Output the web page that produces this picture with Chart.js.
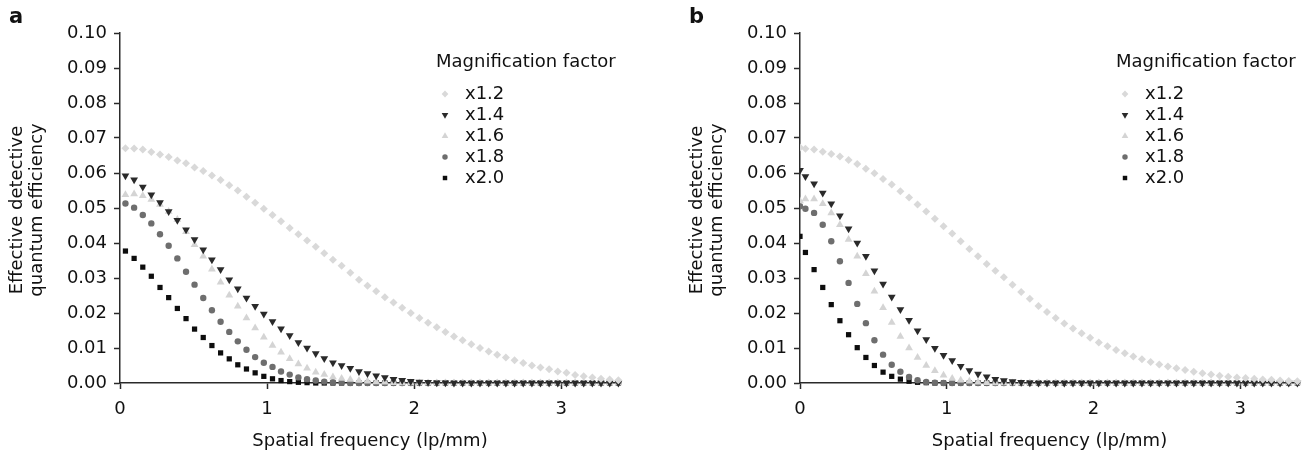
<!DOCTYPE html>
<html>
<head>
<meta charset="utf-8">
<script src="https://cdn.jsdelivr.net/npm/chart.js@4"></script>
<style>
  body { margin: 0; background: #fff; }
  #wrap { position: relative; width: 1315px; height: 457px; }
  canvas { position: absolute; top: 0; }
  #chartA { left: 0; }
  #chartB { left: 680px; }
</style>
</head>
<body>
<div id="wrap">
  <canvas id="chartA" width="680" height="457"></canvas>
  <canvas id="chartB" width="635" height="457"></canvas>
</div>
<script>
// Spatial frequency sample points (lp/mm)
const freq = [
  0.037, 0.096, 0.155, 0.213, 0.272, 0.331, 0.390, 0.449, 0.507, 0.566,
  0.625, 0.684, 0.743, 0.801, 0.860, 0.919, 0.978, 1.037, 1.095, 1.154,
  1.213, 1.272, 1.331, 1.389, 1.448, 1.507, 1.566, 1.625, 1.683, 1.742,
  1.801, 1.860, 1.919, 1.977, 2.036, 2.095, 2.154, 2.213, 2.271, 2.330,
  2.389, 2.448, 2.507, 2.565, 2.624, 2.683, 2.742, 2.801, 2.859, 2.918,
  2.977, 3.036, 3.095, 3.153, 3.212, 3.271, 3.330, 3.389
];
// panel b also has a point at 0
const freqB = [0].concat(freq);

const seriesLabels = ['x1.2', 'x1.4', 'x1.6', 'x1.8', 'x2.0'];
const xTicks = [0, 1, 2, 3];
const yTicks = [0, 0.01, 0.02, 0.03, 0.04, 0.05, 0.06, 0.07, 0.08, 0.09, 0.10];

// Panel a
const a12 = [
  0.0671, 0.0670, 0.0667, 0.0660, 0.0653, 0.0646, 0.0636, 0.0628, 0.0616, 0.0606,
  0.0593, 0.0580, 0.0565, 0.0550, 0.0532, 0.0515, 0.0498, 0.0480, 0.0462, 0.0443,
  0.0425, 0.0407, 0.0389, 0.0371, 0.0352, 0.0335, 0.0315, 0.0295, 0.0278, 0.0262,
  0.0245, 0.0230, 0.0215, 0.0200, 0.0186, 0.0172, 0.0159, 0.0146, 0.0133, 0.0122,
  0.0111, 0.0100, 0.0090, 0.0081, 0.0073, 0.0065, 0.0057, 0.0050, 0.0044, 0.0039,
  0.0033, 0.0029, 0.0023, 0.0019, 0.0016, 0.0012, 0.0010, 0.0008
];
const a14 = [
  0.0592, 0.0581, 0.0560, 0.0538, 0.0516, 0.0490, 0.0465, 0.0438, 0.0410, 0.0381,
  0.0352, 0.0324, 0.0295, 0.0269, 0.0243, 0.0219, 0.0197, 0.0176, 0.0155, 0.0136,
  0.0116, 0.0100, 0.0084, 0.0070, 0.0058, 0.0050, 0.0042, 0.0033, 0.0027, 0.0021,
  0.0016, 0.0011, 0.0008, 0.0005, 0.0003, 0.0002, 0.0001, 0.0001, 0, 0,
  0, 0, 0, 0, 0, 0, 0, 0, 0, 0,
  0, 0, 0, 0, 0, 0, 0, 0
];
const a16 = [
  0.0538, 0.0540, 0.0535, 0.0524, 0.0510, 0.0490, 0.0467, 0.0432, 0.0395, 0.0362,
  0.0325, 0.0288, 0.0251, 0.0219, 0.0186, 0.0157, 0.0131, 0.0107, 0.0088, 0.0069,
  0.0054, 0.0042, 0.0031, 0.0024, 0.0017, 0.0013, 0.0010, 0.0007, 0.0005, 0.0003,
  0.0002, 0.0001, 0, 0, 0, 0, 0, 0, 0, 0,
  0, 0, 0, 0, 0, 0, 0, 0, 0, 0,
  0, 0, 0, 0, 0, 0, 0, 0
];
const a18 = [
  0.0513, 0.0501, 0.0480, 0.0456, 0.0425, 0.0392, 0.0356, 0.0318, 0.0281, 0.0243,
  0.0208, 0.0175, 0.0146, 0.0119, 0.0095, 0.0074, 0.0058, 0.0046, 0.0033, 0.0024,
  0.0016, 0.0011, 0.0007, 0.0004, 0.0002, 0.0001, 0, 0, 0, 0,
  0, 0, 0, 0, 0, 0, 0, 0, 0, 0,
  0, 0, 0, 0, 0, 0, 0, 0, 0, 0,
  0, 0, 0, 0, 0, 0, 0, 0
];
const a20 = [
  0.0377, 0.0356, 0.0331, 0.0305, 0.0273, 0.0244, 0.0213, 0.0184, 0.0154, 0.0130,
  0.0107, 0.0086, 0.0069, 0.0052, 0.0040, 0.0029, 0.0019, 0.0012, 0.0007, 0.0004,
  0.0002, 0.0001, 0, 0, 0, 0, 0, 0, 0, 0,
  0, 0, 0, 0, 0, 0, 0, 0, 0, 0,
  0, 0, 0, 0, 0, 0, 0, 0, 0, 0,
  0, 0, 0, 0, 0, 0, 0, 0
];

// Panel b (first value is at 0 lp/mm)
const b12 = [
  0.0673,
  0.0669, 0.0667, 0.0661, 0.0654, 0.0647, 0.0637, 0.0626, 0.0612, 0.0599, 0.0583,
  0.0567, 0.0548, 0.0530, 0.0510, 0.0490, 0.0469, 0.0448, 0.0427, 0.0405, 0.0383,
  0.0362, 0.0340, 0.0321, 0.0302, 0.0281, 0.0260, 0.0241, 0.0220, 0.0203, 0.0186,
  0.0170, 0.0156, 0.0142, 0.0129, 0.0116, 0.0105, 0.0094, 0.0085, 0.0076, 0.0068,
  0.0060, 0.0053, 0.0047, 0.0042, 0.0037, 0.0032, 0.0028, 0.0024, 0.0021, 0.0018,
  0.0016, 0.0014, 0.0012, 0.0010, 0.0009, 0.0007, 0.0006, 0.0005
];
const b14 = [
  0.0608,
  0.0590, 0.0569, 0.0543, 0.0512, 0.0478, 0.0441, 0.0400, 0.0362, 0.0321, 0.0283,
  0.0246, 0.0210, 0.0179, 0.0149, 0.0124, 0.0099, 0.0079, 0.0064, 0.0048, 0.0036,
  0.0026, 0.0018, 0.0011, 0.0007, 0.0004, 0.0002, 0.0001, 0, 0, 0,
  0, 0, 0, 0, 0, 0, 0, 0, 0, 0,
  0, 0, 0, 0, 0, 0, 0, 0, 0, 0,
  0, 0, 0, 0, 0, 0, 0, 0
];
const b16 = [
  0.0520,
  0.0526, 0.0526, 0.0512, 0.0486, 0.0452, 0.0410, 0.0362, 0.0312, 0.0262, 0.0215,
  0.0173, 0.0133, 0.0100, 0.0073, 0.0050, 0.0035, 0.0022, 0.0013, 0.0008, 0.0005,
  0.0002, 0.0001, 0, 0, 0, 0, 0, 0, 0, 0,
  0, 0, 0, 0, 0, 0, 0, 0, 0, 0,
  0, 0, 0, 0, 0, 0, 0, 0, 0, 0,
  0, 0, 0, 0, 0, 0, 0, 0
];
const b18 = [
  0.0505,
  0.0498, 0.0486, 0.0452, 0.0405, 0.0348, 0.0286, 0.0226, 0.0171, 0.0122, 0.0081,
  0.0052, 0.0032, 0.0017, 0.0008, 0.0003, 0.0001, 0, 0, 0, 0,
  0, 0, 0, 0, 0, 0, 0, 0, 0, 0,
  0, 0, 0, 0, 0, 0, 0, 0, 0, 0,
  0, 0, 0, 0, 0, 0, 0, 0, 0, 0,
  0, 0, 0, 0, 0, 0, 0, 0
];
const b20 = [
  0.0419,
  0.0373, 0.0324, 0.0273, 0.0224, 0.0178, 0.0138, 0.0101, 0.0073, 0.0050, 0.0031,
  0.0019, 0.0011, 0.0005, 0.0002, 0.0001, 0, 0, 0, 0, 0,
  0, 0, 0, 0, 0, 0, 0, 0, 0, 0,
  0, 0, 0, 0, 0, 0, 0, 0, 0, 0,
  0, 0, 0, 0, 0, 0, 0, 0, 0, 0,
  0, 0, 0, 0, 0, 0, 0, 0
];

// marker look per series
const markers = [
  { pointStyle: 'rectRot', radius: 4, rotation: 0, color: '#d9d9d9' },
  { pointStyle: 'triangle', radius: 4.5, rotation: 180, color: '#2a2a2a' },
  { pointStyle: 'triangle', radius: 4.5, rotation: 0, color: '#d4d4d4' },
  { pointStyle: 'circle', radius: 3.2, rotation: 0, color: '#6e6e6e' },
  { pointStyle: 'rect', radius: 3.7, rotation: 0, color: '#0d0d0d' }
];

const FONT = '"DejaVu Sans", "Liberation Sans", Arial, sans-serif';
const INK = '#111';
const AXIS = '#2a2a2a';

function makeDatasets(xs, seriesList) {
    return seriesList.map((vals, i) => {
        const m = markers[i];
        return {
            label: seriesLabels[i],
            data: vals.map((v, j) => ({ x: xs[j], y: v })),
            pointStyle: m.pointStyle,
            pointRadius: m.radius,
            pointRotation: m.rotation,
            pointBackgroundColor: m.color,
            pointBorderWidth: 0,
            pointHoverRadius: m.radius,
            showLine: false,
            clip: { left: 0, top: 6, right: 6, bottom: 6 }
        };
    });
}

// Axis titles, panel letter and legend drawn on the canvas
const decorPlugin = {
    id: 'decor',
    afterDraw(chart, args, opts) {
        const ctx = chart.ctx;
        const area = chart.chartArea;
        ctx.save();
        ctx.fillStyle = INK;

        // panel letter
        ctx.font = 'bold 21px ' + FONT;
        ctx.textAlign = 'left';
        ctx.textBaseline = 'alphabetic';
        ctx.fillText(opts.letter, 9, 23);

        // x title
        ctx.font = '18px ' + FONT;
        ctx.textAlign = 'center';
        ctx.textBaseline = 'middle';
        ctx.fillText('Spatial frequency (lp/mm)', (area.left + area.right) / 2, 441);

        // y title, two lines
        ctx.save();
        ctx.translate(0, 210);
        ctx.rotate(-Math.PI / 2);
        ctx.fillText('Effective detective', 0, 17);
        ctx.fillText('quantum efficiency', 0, 37);
        ctx.restore();

        // legend
        ctx.textAlign = 'left';
        ctx.fillText('Magnification factor', 436, 62);
        seriesLabels.forEach((lab, i) => {
            const y = 94 + i * 21;
            const m = markers[i];
            ctx.fillStyle = m.color;
            Chart.helpers.drawPoint(ctx, {
                pointStyle: m.pointStyle,
                rotation: m.rotation,
                radius: m.radius * 0.85,
                borderWidth: 0
            }, 445, y);
            ctx.fillStyle = INK;
            ctx.fillText(lab, 465, y);
        });
        ctx.restore();
    }
};

function makeChart(id, letter, xs, seriesList, rightPad) {
    return new Chart(document.getElementById(id), {
        type: 'scatter',
        data: { datasets: makeDatasets(xs, seriesList) },
        options: {
            responsive: false,
            animation: false,
            devicePixelRatio: 1,
            layout: { padding: { left: 0, right: rightPad, top: 33, bottom: 0 } },
            plugins: {
                legend: { display: false },
                tooltip: { enabled: false },
                decor: { letter: letter }
            },
            scales: {
                x: {
                    type: 'linear',
                    min: 0,
                    max: 3.4,
                    afterFit(scale) { scale.height = 74; },
                    afterBuildTicks(scale) { scale.ticks = xTicks.map(v => ({ value: v })); },
                    ticks: {
                        includeBounds: false,
                        color: INK,
                        font: { family: FONT, size: 18 },
                        padding: 10,
                        maxRotation: 0,
                        callback: v => String(v)
                    },
                    grid: { drawOnChartArea: false, drawTicks: true, tickLength: 6, tickColor: AXIS, tickWidth: 1.5 },
                    border: { display: true, color: AXIS, width: 1.5 }
                },
                y: {
                    type: 'linear',
                    min: 0,
                    max: 0.1,
                    afterFit(scale) { scale.width = 120; },
                    afterBuildTicks(scale) { scale.ticks = yTicks.map(v => ({ value: v })); },
                    ticks: {
                        color: INK,
                        font: { family: FONT, size: 18 },
                        padding: 7,
                        callback: v => Number(v).toFixed(2)
                    },
                    grid: { drawOnChartArea: false, drawTicks: true, tickLength: 6, tickColor: AXIS, tickWidth: 1.5 },
                    border: { display: true, color: AXIS, width: 1.5 }
                }
            }
        },
        plugins: [decorPlugin]
    });
}

makeChart('chartA', 'a', freq, [a12, a14, a16, a18, a20], 60);
makeChart('chartB', 'b', freqB, [b12, b14, b16, b18, b20], 16);
</script>
</body>
</html>
